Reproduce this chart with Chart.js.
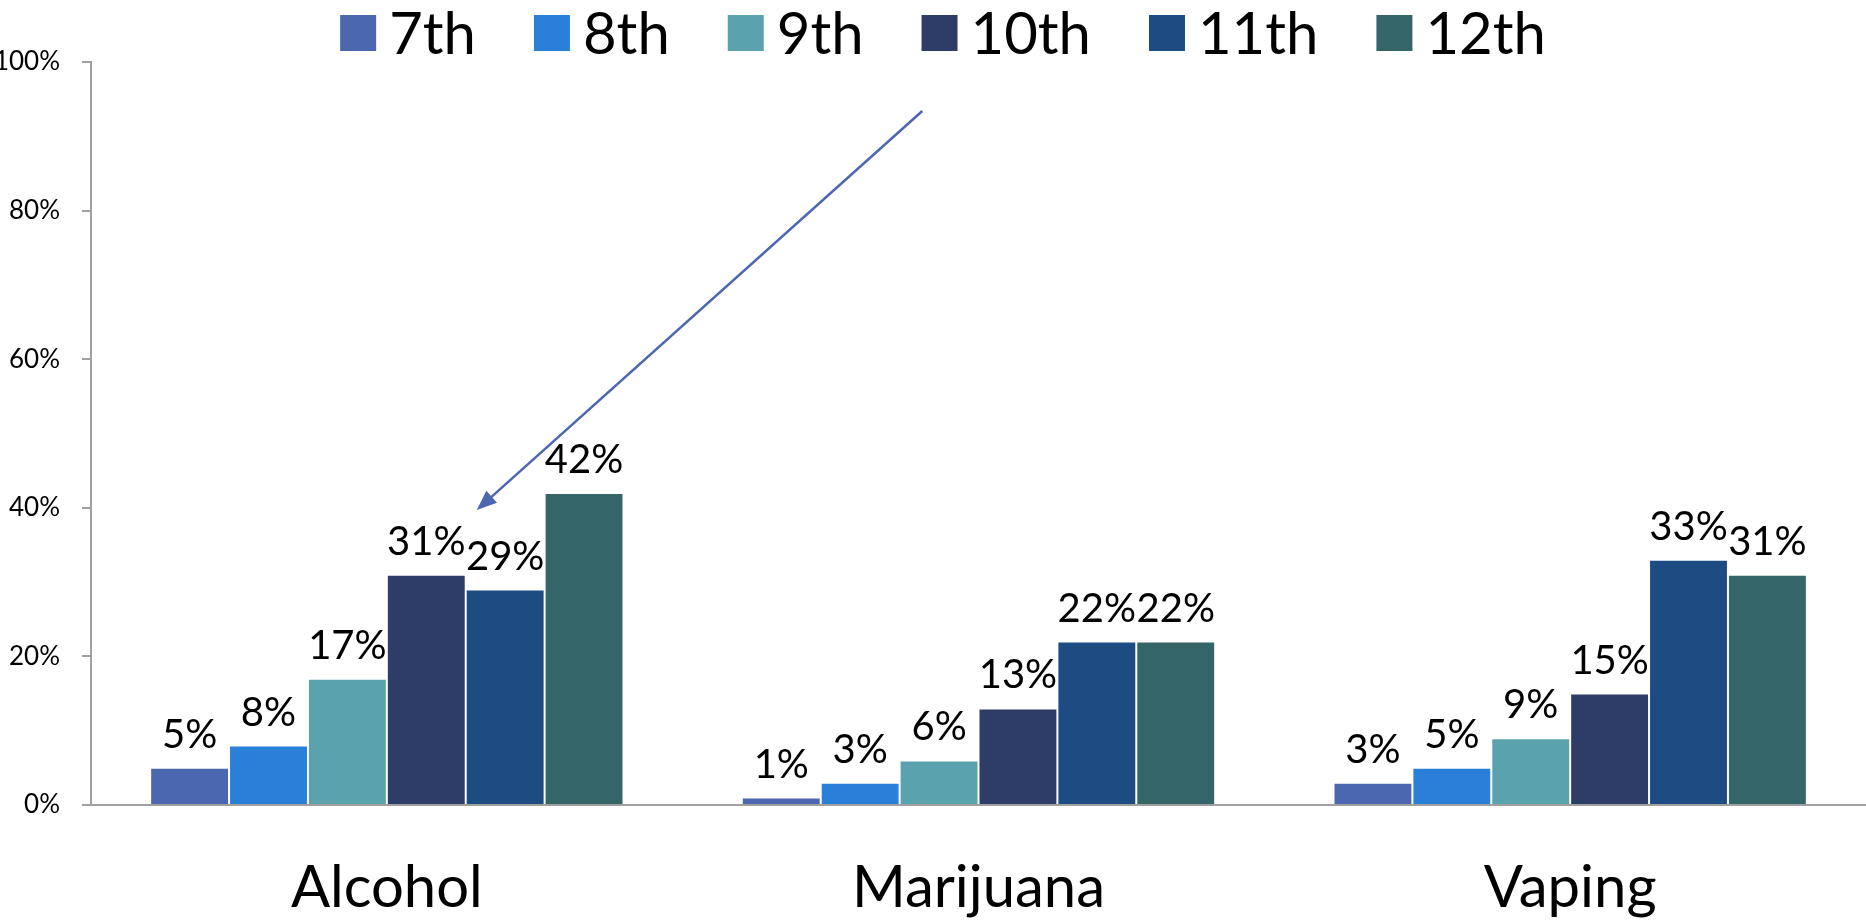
<!DOCTYPE html>
<html>
<head>
<meta charset="utf-8">
<script src="https://cdn.jsdelivr.net/npm/chart.js@4"></script>
<style>
    html, body { margin: 0; padding: 0; background: #fff; }
    #wrap { width: 1866px; height: 921px; }
</style>
</head>
<body>
<div id="wrap"><canvas id="usageChart"></canvas></div>
<script>
// Categories and series (percent of students)
const categories = ['Alcohol', 'Marijuana', 'Vaping'];
const grades = ['7th', '8th', '9th', '10th', '11th', '12th'];
const grade7 = [5, 1, 3];
const grade8 = [8, 3, 5];
const grade9 = [17, 6, 9];
const grade10 = [31, 13, 15];
const grade11 = [29, 22, 33];
const grade12 = [42, 22, 31];
const yTicks = [0, 20, 40, 60, 80, 100];

// Arrow annotation, in data units: [category index, percent]
const arrowFrom = [0.905, 93.4];
const arrowTo = [0.152, 39.7];

const colors = ['#4a67b0', '#2a7fd8', '#5aa3ae', '#2e3d68', '#1c4c82', '#336569'];
const seriesValues = [grade7, grade8, grade9, grade10, grade11, grade12];
const FONT = 'Lato, "Open Sans", sans-serif';

// Legend row across the top (built-in legend can't split box/text gaps)
const topLegend = {
    id: 'topLegend',
    afterDraw(chart) {
        const ctx = chart.ctx;
        const box = 36, gapText = 13, gapItem = 58, cy = 33;
        ctx.save();
        ctx.font = '58px ' + FONT;
        ctx.textBaseline = 'middle';
        ctx.textAlign = 'left';
        const items = chart.data.datasets.map(ds => ({
            text: ds.label, color: ds.backgroundColor, w: ctx.measureText(ds.label).width
        }));
        const total = items.reduce((s, it) => s + box + gapText + it.w, 0) + gapItem * (items.length - 1);
        let x = chart.width / 2 + 10 - total / 2;
        items.forEach(it => {
            ctx.fillStyle = it.color;
            ctx.fillRect(x, cy - box / 2, box, box);
            ctx.fillStyle = '#000';
            ctx.fillText(it.text, x + box + gapText, cy + 2);
            x += box + gapText + it.w + gapItem;
        });
        ctx.restore();
    }
};

// Value labels above each bar
const barLabels = {
    id: 'barLabels',
    afterDatasetsDraw(chart) {
        const ctx = chart.ctx;
        ctx.save();
        ctx.font = '40px ' + FONT;
        ctx.fillStyle = '#000';
        ctx.textAlign = 'center';
        ctx.textBaseline = 'alphabetic';
        chart.data.datasets.forEach((ds, i) => {
            chart.getDatasetMeta(i).data.forEach((bar, j) => {
                ctx.fillText(ds.data[j] + '%', bar.x, bar.y - 20);
            });
        });
        ctx.restore();
    }
};

// Arrow pointing into the Alcohol group
const arrow = {
    id: 'arrow',
    afterDatasetsDraw(chart) {
        const { ctx, scales: { x, y } } = chart;
        const x1 = x.getPixelForValue(arrowFrom[0]), y1 = y.getPixelForValue(arrowFrom[1]);
        const x2 = x.getPixelForValue(arrowTo[0]), y2 = y.getPixelForValue(arrowTo[1]);
        const ang = Math.atan2(y2 - y1, x2 - x1);
        const len = 20, half = 8;
        ctx.save();
        ctx.strokeStyle = '#4a67b0';
        ctx.fillStyle = '#4a67b0';
        ctx.lineWidth = 2.5;
        ctx.beginPath();
        ctx.moveTo(x1, y1);
        ctx.lineTo(x2 - Math.cos(ang) * len * 0.8, y2 - Math.sin(ang) * len * 0.8);
        ctx.stroke();
        ctx.beginPath();
        ctx.moveTo(x2, y2);
        ctx.lineTo(x2 - Math.cos(ang) * len - Math.sin(ang) * half, y2 - Math.sin(ang) * len + Math.cos(ang) * half);
        ctx.lineTo(x2 - Math.cos(ang) * len + Math.sin(ang) * half, y2 - Math.sin(ang) * len - Math.cos(ang) * half);
        ctx.closePath();
        ctx.fill();
        ctx.restore();
    }
};

new Chart(document.getElementById('usageChart'), {
    type: 'bar',
    data: {
        labels: categories,
        datasets: grades.map((g, i) => ({
            label: g,
            data: seriesValues[i],
            backgroundColor: colors[i],
            borderColor: 'rgba(255, 255, 255, 0.45)',
            borderWidth: 1,
            categoryPercentage: 0.8,
            barPercentage: 1.0
        }))
    },
    options: {
        responsive: true,
        maintainAspectRatio: false,
        animation: false,
        layout: { padding: { top: 62, right: 0, bottom: 0, left: 0 } },
        plugins: {
            legend: { display: false },
            tooltip: { enabled: false }
        },
        scales: {
            x: {
                grid: { display: false },
                border: { display: true, color: '#a0a0a0', width: 2 },
                afterFit: (scale) => { scale.height = 116; },
                ticks: {
                    color: '#000',
                    font: { family: FONT, size: 58 },
                    padding: 40
                }
            },
            y: {
                min: 0,
                max: 100,
                afterBuildTicks: (scale) => { scale.ticks = yTicks.map(v => ({ value: v })); },
                afterFit: (scale) => { scale.width = 91; },
                grid: { drawOnChartArea: false, drawTicks: true, tickLength: 9, color: '#a0a0a0', lineWidth: 2 },
                border: { display: true, color: '#a0a0a0', width: 2 },
                ticks: {
                    color: '#000',
                    font: { family: FONT, size: 26 },
                    padding: 22,
                    callback: v => v + '%'
                }
            }
        }
    },
    plugins: [barLabels, arrow, topLegend]
});
</script>
</body>
</html>
